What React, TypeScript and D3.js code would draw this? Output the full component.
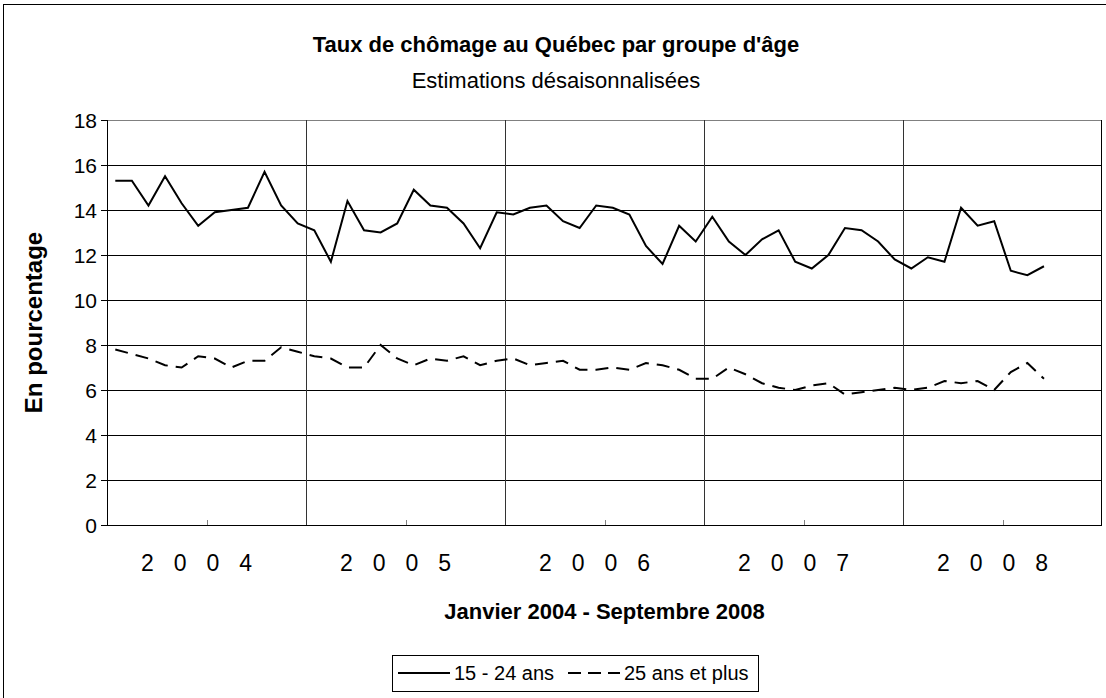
import React from 'react';
import * as d3 from 'd3';

// Taux de chômage mensuel, janvier 2004 à septembre 2008
const years = ['2004', '2005', '2006', '2007', '2008'];
const youth = [
  15.3, 15.3, 14.2, 15.5, 14.3, 13.3, 13.9, 14.0, 14.1, 15.7, 14.2, 13.4,
  13.1, 11.7, 14.4, 13.1, 13.0, 13.4, 14.9, 14.2, 14.1, 13.4, 12.3, 13.9,
  13.8, 14.1, 14.2, 13.5, 13.2, 14.2, 14.1, 13.8, 12.4, 11.6, 13.3, 12.6,
  13.7, 12.6, 12.0, 12.7, 13.1, 11.7, 11.4, 12.0, 13.2, 13.1, 12.6, 11.8,
  11.4, 11.9, 11.7, 14.1, 13.3, 13.5, 11.3, 11.1, 11.5,
];
const adults = [
  7.8, 7.6, 7.4, 7.1, 7.0, 7.5, 7.4, 7.0, 7.3, 7.3, 7.9, 7.7,
  7.5, 7.4, 7.0, 7.0, 8.0, 7.4, 7.1, 7.4, 7.3, 7.5, 7.1, 7.3,
  7.4, 7.1, 7.2, 7.3, 6.9, 6.9, 7.0, 6.9, 7.2, 7.1, 6.9, 6.5,
  6.5, 7.0, 6.7, 6.3, 6.1, 6.0, 6.2, 6.3, 5.8, 5.9, 6.0, 6.1,
  6.0, 6.1, 6.4, 6.3, 6.4, 6.0, 6.8, 7.2, 6.5,
];
const yTicks = [0, 2, 4, 6, 8, 10, 12, 14, 16, 18];
const seriesNames = ['15 - 24 ans', '25 ans et plus'];

const FONT = '"Liberation Sans", Arial, sans-serif';

const App = () => {
  const width = 1106;
  const height = 698;
  const plot = { left: 107, right: 1102, top: 120, bottom: 525 };

  // one band per month, whole years on the axis
  const months = years.flatMap(y => d3.range(12).map(m => `${y}-${m}`));
  const x = d3.scaleBand<string>()
    .domain(months)
    .range([plot.left, plot.right]);
  const y = d3.scaleLinear()
    .domain([0, 18])
    .range([plot.bottom, plot.top]);

  const cx = (i: number) => (x(months[i]) as number) + x.bandwidth() / 2;
  const line = d3.line<number>()
    .x((_, i) => cx(i))
    .y(d => y(d));

  const yearStart = (k: number) => x(`${years[k]}-0`) as number;
  const yearMid = (k: number) => yearStart(k) + x.bandwidth() * 6;

  // legend layout
  const legFont = 20;
  const legTop = 655;
  const legH = 36;
  const sample = 52;
  const t1 = 102;
  const t2 = 128;
  const legW = 6 + sample + 4 + t1 + 12 + sample + 4 + t2 + 6;
  const legLeft = 575 - legW / 2;

  return (
    <svg width={width} height={height} style={{ display: 'block', position: 'absolute', left: 0, top: 0 }}
      fontFamily={FONT}>
      <rect x={0} y={0} width={width} height={height} fill="#fff" />
      <rect x={3.5} y={4.5} width={width + 10} height={height + 10} fill="none" stroke="#000" strokeWidth={1} />

      <text x={556} y={52} textAnchor="middle" fontSize={22} fontWeight="bold">
        Taux de chômage au Québec par groupe d'âge
      </text>
      <text x={556} y={88} textAnchor="middle" fontSize={22}>
        Estimations désaisonnalisées
      </text>

      {/* horizontal grid */}
      {yTicks.map(t => (
        <g key={t}>
          <line x1={plot.left} x2={plot.right} y1={Math.round(y(t)) + 0.5} y2={Math.round(y(t)) + 0.5}
            stroke={t === 18 ? '#808080' : '#000'} strokeWidth={1} />
          <line x1={plot.left - 6} x2={plot.left} y1={Math.round(y(t)) + 0.5} y2={Math.round(y(t)) + 0.5}
            stroke="#000" />
          <text x={97} y={y(t)} dy="0.36em" textAnchor="end" fontSize={21}>{t}</text>
        </g>
      ))}

      {/* year boundaries */}
      {years.slice(1).map((yr, k) => (
        <line key={yr} x1={Math.round(yearStart(k + 1)) + 0.5} x2={Math.round(yearStart(k + 1)) + 0.5}
          y1={plot.top} y2={plot.bottom} stroke="#333" strokeWidth={1} />
      ))}
      {years.map((yr, k) => (
        <g key={yr}>
          <line x1={Math.round(yearMid(k)) + 0.5} x2={Math.round(yearMid(k)) + 0.5}
            y1={plot.bottom} y2={plot.bottom - 5} stroke="#808080" />
          <text x={yearMid(k)} y={571} textAnchor="middle" fontSize={23} letterSpacing={20}>{yr}</text>
        </g>
      ))}

      {/* frame */}
      <line x1={plot.left + 0.5} x2={plot.left + 0.5} y1={plot.top} y2={plot.bottom} stroke="#000" />
      <line x1={plot.right - 0.5} x2={plot.right - 0.5} y1={plot.top} y2={plot.bottom} stroke="#000" />
      <line x1={plot.left} x2={plot.right} y1={plot.bottom + 0.5} y2={plot.bottom + 0.5} stroke="#000" />

      <path d={line(youth) || ''} fill="none" stroke="#000" strokeWidth={2} strokeLinejoin="miter" />
      <path d={line(adults) || ''} fill="none" stroke="#000" strokeWidth={2} strokeDasharray="13,8" />

      <text transform={`translate(42,${(plot.top + plot.bottom) / 2}) rotate(-90)`} textAnchor="middle"
        fontSize={24} fontWeight="bold">En pourcentage</text>
      <text x={(plot.left + plot.right) / 2} y={619} textAnchor="middle" fontSize={22} fontWeight="bold">
        Janvier 2004 - Septembre 2008
      </text>

      {/* legend */}
      <g transform={`translate(${legLeft},${legTop})`}>
        <rect x={0.5} y={0.5} width={legW} height={legH} fill="#fff" stroke="#000" />
        <line x1={6} x2={6 + sample} y1={legH / 2} y2={legH / 2} stroke="#000" strokeWidth={2} />
        <text x={6 + sample + 4} y={legH / 2} dy="0.36em" fontSize={legFont}>{seriesNames[0]}</text>
        <line x1={6 + sample + 4 + t1 + 12} x2={6 + sample + 4 + t1 + 12 + sample} y1={legH / 2} y2={legH / 2}
          stroke="#000" strokeWidth={2} strokeDasharray="13,7" />
        <text x={6 + sample + 4 + t1 + 12 + sample + 4} y={legH / 2} dy="0.36em" fontSize={legFont}>
          {seriesNames[1]}
        </text>
      </g>
    </svg>
  );
};

export default App;
